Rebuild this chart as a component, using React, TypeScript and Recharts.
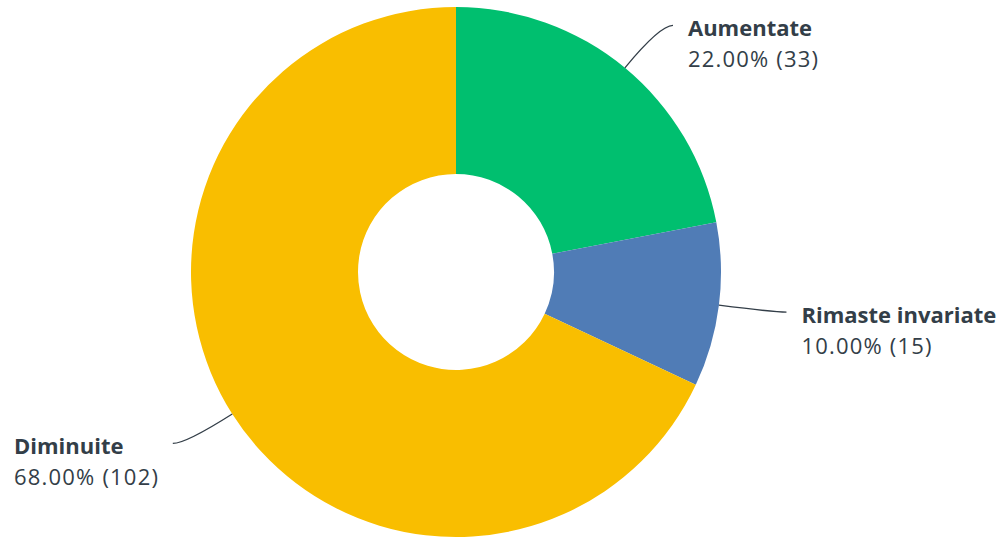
import { PieChart, Pie, Cell } from 'recharts';

// answer options, in order clockwise from the top
const categories = ['Aumentate', 'Rimaste invariate', 'Diminuite'];
const percents = [22.0, 10.0, 68.0];
const counts = [33, 15, 102];

const COLORS = ['#00bf6f', '#507cb6', '#f9be00'];

const data = categories.map((name, i) => ({ name, value: percents[i], count: counts[i] }));

const RADIAN = Math.PI / 180;

const renderLabel = (props: any) => {
  const { cx, cy, midAngle, outerRadius, index } = props;
  const cos = Math.cos(-midAngle * RADIAN);
  const sin = Math.sin(-midAngle * RADIAN);
  const sx = cx + outerRadius * cos;
  const sy = cy + outerRadius * sin;
  const mx = cx + (outerRadius + 55) * cos;
  const my = cy + (outerRadius + 55) * sin;
  const right = cos >= 0;
  const ex = mx + (right ? 13 : -13);
  const ey = my;
  const d = data[index];
  const tx = right ? ex + 15 : 14;
  return (
    <g>
      <path d={`M${sx},${sy} Q${mx},${my} ${ex},${ey}`} stroke="#333e48" strokeWidth={1.3} fill="none" />
      <text x={tx} y={ey + 11} fill="#333e48" fontSize={22} fontWeight={700} textAnchor="start">
        {d.name}
      </text>
      <text x={tx} y={ey + 42} fill="#333e48" fontSize={22} letterSpacing={1.2} textAnchor="start">
        {`${d.value.toFixed(2)}% (${d.count})`}
      </text>
    </g>
  );
};

export default function App() {
  return (
    <div style={{ position: 'absolute', left: 0, top: 0, fontFamily: '"Open Sans", sans-serif' }}>
      <PieChart width={1004} height={541} margin={{ top: 0, right: 0, bottom: 0, left: 0 }}>
        <Pie
          data={data}
          dataKey="value"
          cx={456}
          cy={272}
          innerRadius={98}
          outerRadius={265}
          startAngle={90}
          endAngle={-270}
          stroke="none"
          label={renderLabel}
          labelLine={false}
          isAnimationActive={false}
        >
          {data.map((entry, index) => (
            <Cell key={`cell-${index}`} fill={COLORS[index]} />
          ))}
        </Pie>
      </PieChart>
    </div>
  );
}
